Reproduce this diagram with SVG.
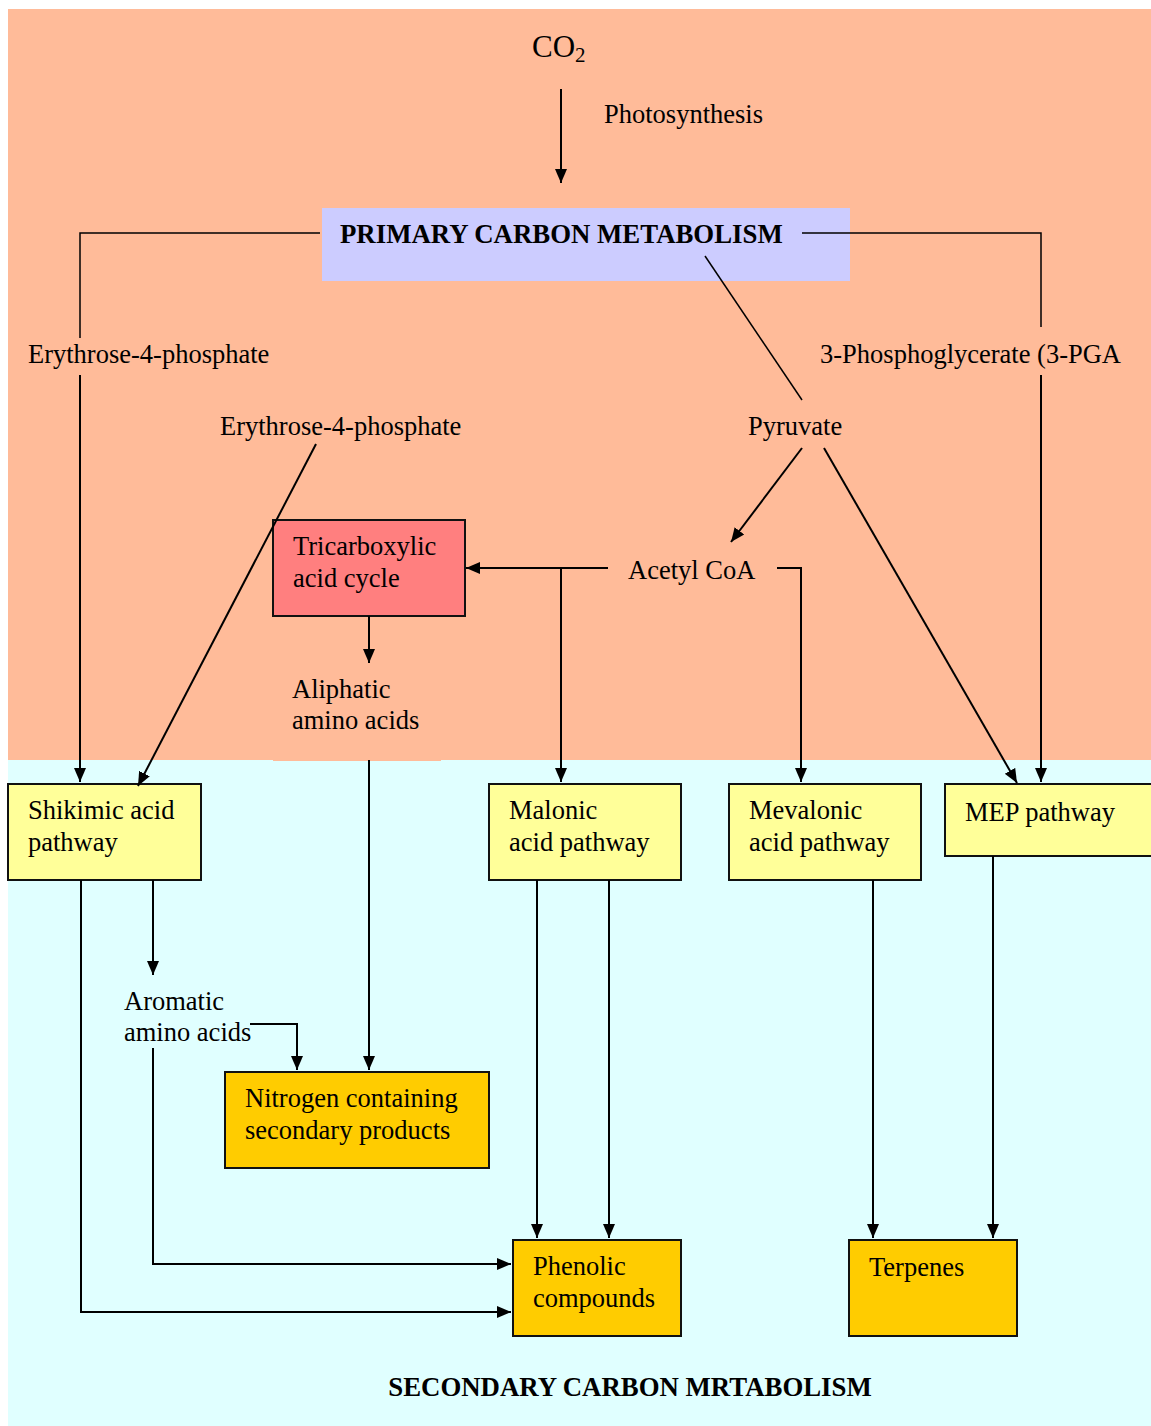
<svg xmlns="http://www.w3.org/2000/svg" width="1151" height="1426" viewBox="0 0 1151 1426">
<style>
text{font-family:"Liberation Serif","Times New Roman",serif;font-size:26.5px;fill:#000}
.b{font-weight:bold;font-size:26.8px}
.box{stroke:#111;stroke-width:2}
.c{fill:none;stroke:#000;stroke-width:2}
.t{fill:none;stroke:#000;stroke-width:1.5}
</style>
<defs>
<marker id="ah" markerUnits="userSpaceOnUse" markerWidth="14" markerHeight="14" viewBox="0 0 14 14" refX="14" refY="7" orient="auto">
<path d="M0,1 L14,7 L0,13 Z" fill="#000"/>
</marker>
</defs>
<rect x="0" y="0" width="1151" height="1426" fill="#fff"/>
<rect x="8" y="9" width="1143" height="751" fill="#FFBB99"/>
<rect x="8" y="760" width="1143" height="666" fill="#E0FFFF"/>
<rect x="273" y="758" width="168" height="3" fill="#FFBB99"/>

<g id="co2"><text x="532" y="57" style="font-size:31px">CO<tspan style="font-size:21px" dy="5">2</tspan></text></g>
<g id="photosynthesis"><text x="604" y="123">Photosynthesis</text></g>
<g id="primary"><rect x="322" y="208" width="528" height="73" fill="#CCCCFF"/><text class="b" x="340" y="243">PRIMARY CARBON METABOLISM</text></g>
<g id="e4p1"><text x="28" y="363">Erythrose-4-phosphate</text></g>
<g id="e4p2"><text x="220" y="435">Erythrose-4-phosphate</text></g>
<g id="pga"><text x="820" y="363">3-Phosphoglycerate (3-PGA</text></g>
<g id="pyruvate"><text x="748" y="435">Pyruvate</text></g>
<g id="acetyl"><text x="628" y="579">Acetyl CoA</text></g>
<g id="tca"><rect class="box" x="273" y="520" width="192" height="96" fill="#FF7F7F"/><text x="293" y="555">Tricarboxylic</text><text x="293" y="587">acid cycle</text></g>
<g id="aliphatic"><text x="292" y="698">Aliphatic</text><text x="292" y="729">amino acids</text></g>
<g id="shikimic"><rect class="box" x="8" y="784" width="193" height="96" fill="#FFFF99"/><text x="28" y="819">Shikimic acid</text><text x="28" y="851">pathway</text></g>
<g id="malonic"><rect class="box" x="489" y="784" width="192" height="96" fill="#FFFF99"/><text x="509" y="819">Malonic</text><text x="509" y="851">acid pathway</text></g>
<g id="mevalonic"><rect class="box" x="729" y="784" width="192" height="96" fill="#FFFF99"/><text x="749" y="819">Mevalonic</text><text x="749" y="851">acid pathway</text></g>
<g id="mep"><rect class="box" x="945" y="784" width="210" height="72" fill="#FFFF99"/><text x="965" y="821">MEP pathway</text></g>
<g id="aromatic"><text x="124" y="1010">Aromatic</text><text x="124" y="1041">amino acids</text></g>
<g id="nitrogen"><rect class="box" x="225" y="1072" width="264" height="96" fill="#FFCC00"/><text x="245" y="1107">Nitrogen containing</text><text x="245" y="1139">secondary products</text></g>
<g id="phenolic"><rect class="box" x="513" y="1240" width="168" height="96" fill="#FFCC00"/><text x="533" y="1275">Phenolic</text><text x="533" y="1307">compounds</text></g>
<g id="terpenes"><rect class="box" x="849" y="1240" width="168" height="96" fill="#FFCC00"/><text x="869" y="1276">Terpenes</text></g>
<g id="secondary"><text class="b" x="630" y="1396" text-anchor="middle">SECONDARY CARBON MRTABOLISM</text></g>

<g id="connectors">
<path class="c" d="M561,89 V183" marker-end="url(#ah)"/>
<path class="t" d="M320,233 H80 V338"/>
<path class="t" d="M802,233 H1041 V327"/>
<path class="t" d="M705,256 L802,400"/>
<path class="c" d="M80,375 V782" marker-end="url(#ah)"/>
<path class="c" d="M316,444 L138,786" marker-end="url(#ah)"/>
<path class="c" d="M1041,375 V782" marker-end="url(#ah)"/>
<path class="c" d="M802,448 L731,542" marker-end="url(#ah)"/>
<path class="c" d="M824,448 L1017,783" marker-end="url(#ah)"/>
<path class="c" d="M608,568 H466" marker-end="url(#ah)"/>
<path class="c" d="M561,568 V782" marker-end="url(#ah)"/>
<path class="c" d="M777,568 H801 V782" marker-end="url(#ah)"/>
<path class="c" d="M369,616 V663" marker-end="url(#ah)"/>
<path class="c" d="M369,760 V1070" marker-end="url(#ah)"/>
<path class="c" d="M153,880 V975" marker-end="url(#ah)"/>
<path class="c" d="M81,880 V1312 H511" marker-end="url(#ah)"/>
<path class="c" d="M250,1024 H297 V1070" marker-end="url(#ah)"/>
<path class="c" d="M153,1048 V1264 H511" marker-end="url(#ah)"/>
<path class="c" d="M537,880 V1238" marker-end="url(#ah)"/>
<path class="c" d="M609,880 V1238" marker-end="url(#ah)"/>
<path class="c" d="M873,880 V1238" marker-end="url(#ah)"/>
<path class="c" d="M993,856 V1238" marker-end="url(#ah)"/>
</g>
</svg>
